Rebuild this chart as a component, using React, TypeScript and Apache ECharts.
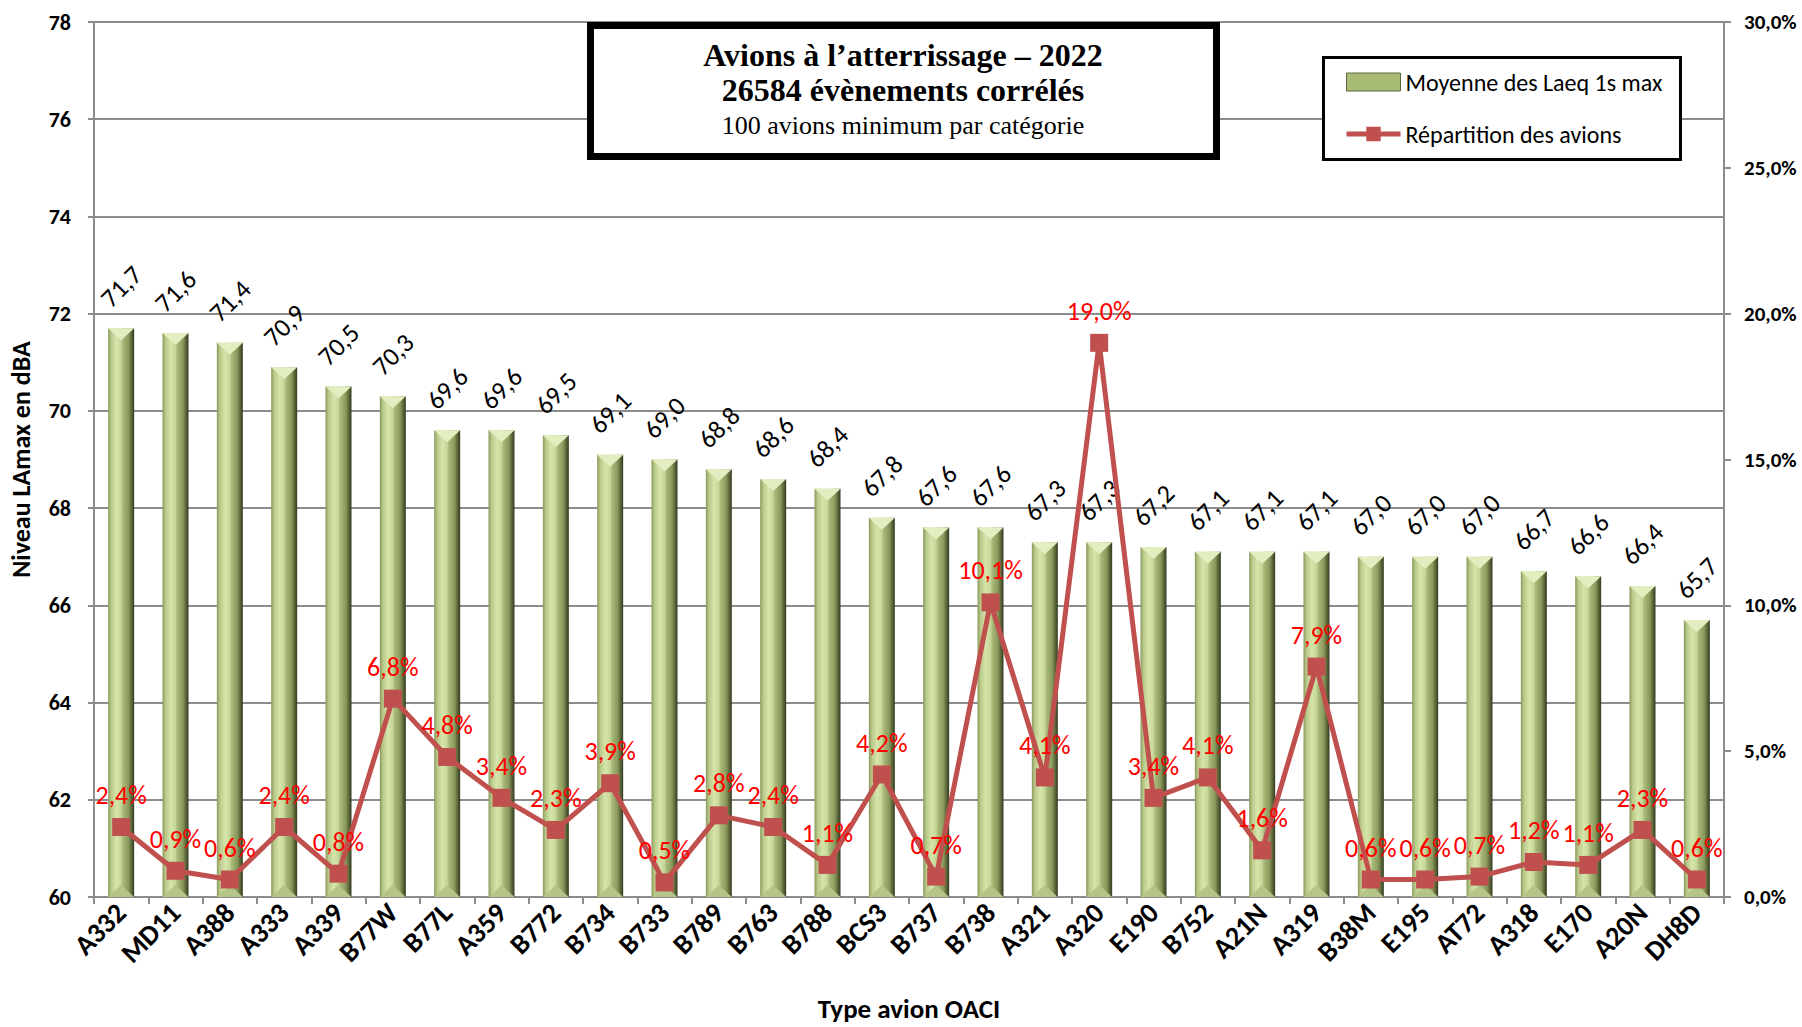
import React, { useEffect, useRef } from "react";
import * as echarts from "echarts";

const categories = ["A332","MD11","A388","A333","A339","B77W","B77L","A359","B772","B734","B733","B789","B763","B788","BCS3","B737","B738","A321","A320","E190","B752","A21N","A319","B38M","E195","AT72","A318","E170","A20N","DH8D"];
const levels = [71.7,71.6,71.4,70.9,70.5,70.3,69.6,69.6,69.5,69.1,69.0,68.8,68.6,68.4,67.8,67.6,67.6,67.3,67.3,67.2,67.1,67.1,67.1,67.0,67.0,67.0,66.7,66.6,66.4,65.7];
const shares = [2.4,0.9,0.6,2.4,0.8,6.8,4.8,3.4,2.3,3.9,0.5,2.8,2.4,1.1,4.2,0.7,10.1,4.1,19.0,3.4,4.1,1.6,7.9,0.6,0.6,0.7,1.2,1.1,2.3,0.6];
const titleLines = ["Avions à l\u2019atterrissage \u2013 2022", "26584 évènements corrélés", "100 avions minimum par catégorie"];
const barName = "Moyenne des Laeq 1s max";
const lineName = "Répartition des avions";

const SANS = "Carlito, Lato, sans-serif";
const SERIF = "'Liberation Serif', 'Times New Roman', serif";
const comma = (v: number, d: number) => v.toFixed(d).replace(".", ",");

export default function App() {
  const ref = useRef<HTMLDivElement>(null);
  useEffect(() => {
    if (!ref.current) return;
    const chart = echarts.init(ref.current, undefined, { renderer: "svg" });
    const barGrad = new echarts.graphic.LinearGradient(0, 0, 1, 0, [
      { offset: 0, color: "#8a985c" },
      { offset: 0.12, color: "#b9ca8a" },
      { offset: 0.32, color: "#d6e5aa" },
      { offset: 0.5, color: "#c6d698" },
      { offset: 0.56, color: "#aabb7a" },
      { offset: 0.78, color: "#8a995c" },
      { offset: 0.9, color: "#5a6639" },
      { offset: 1, color: "#333a20" },
    ]);
    const hw = 13;
    chart.setOption({
      animation: false,
      grid: { left: 90, right: 78, top: 22, bottom: 126 },
      legend: {
        left: 1344,
        top: 68,
        padding: 0,
        orient: "vertical",
        itemGap: 24,
        itemWidth: 54,
        itemHeight: 18,
        z: 6,
        textStyle: { fontFamily: SANS, fontSize: 24, color: "#000", lineHeight: 28 },
        data: [
          { name: barName, icon: "rect", itemStyle: { color: "#a9bc76", borderColor: "#5c683b", borderWidth: 1 } },
          { name: lineName, lineStyle: { width: 5, color: "#C0504D" } },
        ],
      },
      xAxis: {
        type: "category",
        data: categories,
        name: "Type avion OACI",
        nameLocation: "middle",
        nameGap: 98,
        nameTextStyle: { fontFamily: SANS, fontSize: 27, fontWeight: "bold", color: "#000" },
        axisLine: { lineStyle: { color: "#8c8c8c", width: 2 } },
        axisTick: { show: true, length: 7, lineStyle: { color: "#8c8c8c", width: 2 } },
        axisLabel: { rotate: 45, margin: 11, interval: 0, fontFamily: SANS, fontSize: 28, fontWeight: "bold", color: "#000" },
      },
      yAxis: [
        {
          type: "value",
          min: 60,
          max: 78,
          interval: 2,
          name: "Niveau LAmax en dBA",
          nameLocation: "middle",
          nameGap: 60,
          nameTextStyle: { fontFamily: SANS, fontSize: 26, fontWeight: "bold", color: "#000" },
          axisLine: { show: true, lineStyle: { color: "#8c8c8c", width: 2 } },
          axisTick: { show: true, length: 6, lineStyle: { color: "#8c8c8c", width: 2 } },
          axisLabel: { margin: 23, fontFamily: SANS, fontSize: 22, fontWeight: "bold", color: "#000" },
          splitLine: { lineStyle: { color: "#8c8c8c", width: 2 } },
        },
        {
          type: "value",
          min: 0,
          max: 30,
          interval: 5,
          position: "right",
          axisLine: { show: true, lineStyle: { color: "#8c8c8c", width: 2 } },
          axisTick: { show: true, length: 7, lineStyle: { color: "#8c8c8c", width: 2 } },
          axisLabel: { margin: 20, fontFamily: SANS, fontSize: 21, fontWeight: "bold", color: "#000", formatter: (v: number) => comma(v, 1) + "%" },
          splitLine: { show: false },
        },
      ],
      series: [
        {
          name: barName,
          type: "bar",
          yAxisIndex: 0,
          data: levels,
          barWidth: 26,
          itemStyle: { color: barGrad },
          label: {
            show: true,
            position: "top",
            distance: 42,
            rotate: 45,
            align: "center",
            verticalAlign: "middle",
            fontFamily: SANS,
            fontSize: 26,
            color: "#000",
            formatter: (p: any) => comma(p.value, 1),
          },
          z: 2,
        },
        {
          name: "bevel",
          type: "custom",
          yAxisIndex: 0,
          silent: true,
          z: 3,
          data: levels.map((v, i) => [i, v]),
          renderItem: (params: any, api: any) => {
            const idx = api.value(0);
            const v = api.value(1);
            const top = api.coord([idx, v]);
            const bot = api.coord([idx, 60]);
            const d = 12;
            return {
              type: "group",
              children: [
                { type: "polygon", shape: { points: [[top[0] - hw, top[1]], [top[0] + hw, top[1]], [top[0], top[1] + d]] }, style: { fill: "#e3eec0" } },
                { type: "polygon", shape: { points: [[bot[0] - hw, bot[1]], [bot[0] + hw, bot[1]], [bot[0], bot[1] - d]] }, style: { fill: "#b5c487" } },
              ],
            };
          },
        },
        {
          name: lineName,
          type: "line",
          yAxisIndex: 1,
          data: shares,
          z: 5,
          symbol: "rect",
          symbolSize: 18,
          lineStyle: { color: "#C0504D", width: 5 },
          itemStyle: { color: "#C0504D" },
          label: {
            show: true,
            position: "top",
            distance: 10,
            fontFamily: SANS,
            fontSize: 26,
            color: "#FF0000",
            formatter: (p: any) => comma(p.value, 1) + "%",
          },
        },
      ],
      graphic: [
        {
          type: "rect",
          z: 10,
          shape: { x: 590.5, y: 25.5, width: 626, height: 131 },
          style: { fill: "#fff", stroke: "#000", lineWidth: 7 },
        },
        {
          type: "text",
          z: 11,
          x: 903,
          y: 55,
          style: { text: titleLines[0], textAlign: "center", textVerticalAlign: "middle", font: `bold 32px ${SERIF}`, fill: "#000" },
        },
        {
          type: "text",
          z: 11,
          x: 903,
          y: 90,
          style: { text: titleLines[1], textAlign: "center", textVerticalAlign: "middle", font: `bold 32px ${SERIF}`, fill: "#000" },
        },
        {
          type: "text",
          z: 11,
          x: 903,
          y: 125,
          style: { text: titleLines[2], textAlign: "center", textVerticalAlign: "middle", font: `26px ${SERIF}`, fill: "#000" },
        },
        {
          type: "rect",
          z: 3,
          shape: { x: 1323.5, y: 57.5, width: 357, height: 102 },
          style: { fill: "#fff", stroke: "#000", lineWidth: 3 },
        },
      ],
    });
    return () => chart.dispose();
  }, []);
  return <div ref={ref} style={{ width: 1802, height: 1027, position: "absolute", left: 0, top: 0 }} />;
}
